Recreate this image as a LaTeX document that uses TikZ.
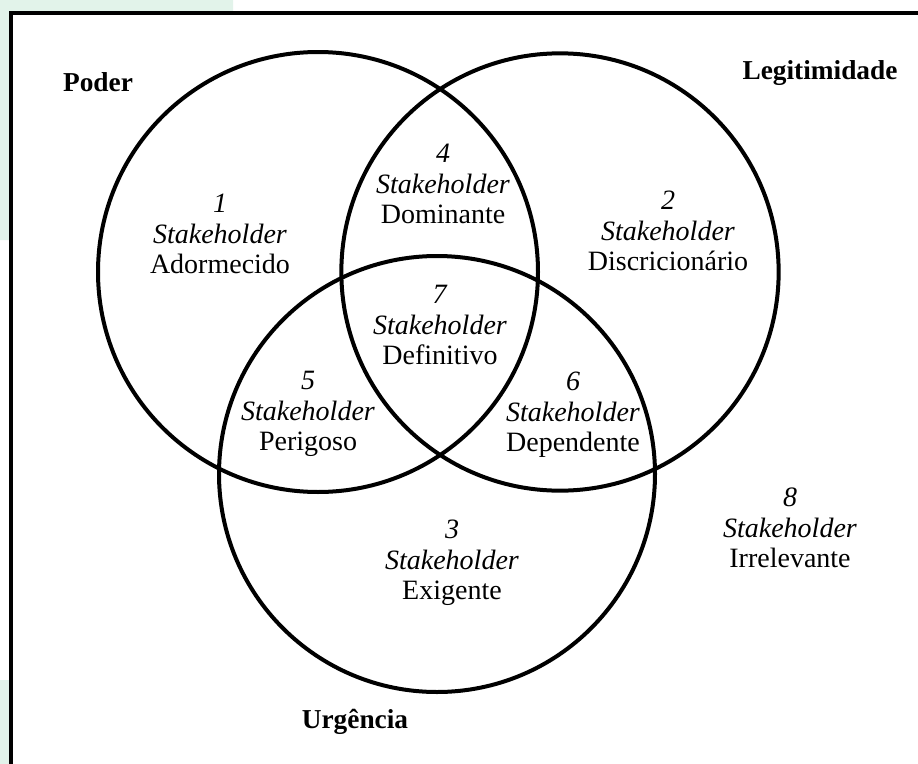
\documentclass[tikz,border=0pt]{standalone}
\usepackage{fontspec}
\setmainfont{Liberation Serif}
\definecolor{bggreen}{HTML}{E2F3EA}
\begin{document}
\begin{tikzpicture}[x=0.75pt,y=-0.75pt,
  ring/.style={line width=3pt},
  lbl/.style={align=center,inner sep=0pt,font=\fontsize{21}{23}\selectfont},
  title/.style={inner sep=0pt,font=\fontsize{20.5}{23}\selectfont\bfseries}]
\useasboundingbox (0,0) rectangle (918,764);
\fill[bggreen,rounded corners=20pt] (-30,-30) rectangle (233,240);
\fill[bggreen] (-30,680) rectangle (11,800);
\fill[white] (11,13) rectangle (950,800);
\draw[line width=2.3pt] (11,13) rectangle (950,800);
\coordinate (cP) at (318,272);
\coordinate (cL) at (560,272);
\coordinate (cU) at (437,474);
\draw[ring] (cP) circle[radius=165pt];
\draw[ring] (cL) circle[radius=164pt];
\draw[ring] (cU) circle[radius=163.5pt];
\node[title] (tP) at (98,82) {Poder};
\node[title] (tL) at (820,73) {Legitimidade};
\node[title] (tU) at (355,722) {Urgência};
\node[lbl] (s1) at (220,234) {\textit{1}\\\textit{Stakeholder}\\Adormecido};
\node[lbl] (s4) at (443,184) {\textit{4}\\\textit{Stakeholder}\\Dominante};
\node[lbl] (s2) at (668,231) {\textit{2}\\\textit{Stakeholder}\\Discricionário};
\node[lbl] (s7) at (440,325) {\textit{7}\\\textit{Stakeholder}\\Definitivo};
\node[lbl] (s5) at (308,414) {\textit{5}\\\textit{Stakeholder}\\Perigoso};
\node[lbl] (s6) at (573,415) {\textit{6}\\\textit{Stakeholder}\\Dependente};
\node[lbl] (s3) at (452,563) {\textit{3}\\\textit{Stakeholder}\\Exigente};
\node[lbl] (s8) at (790,528) {\textit{8}\\\textit{Stakeholder}\\Irrelevante};
\end{tikzpicture}
\end{document}
